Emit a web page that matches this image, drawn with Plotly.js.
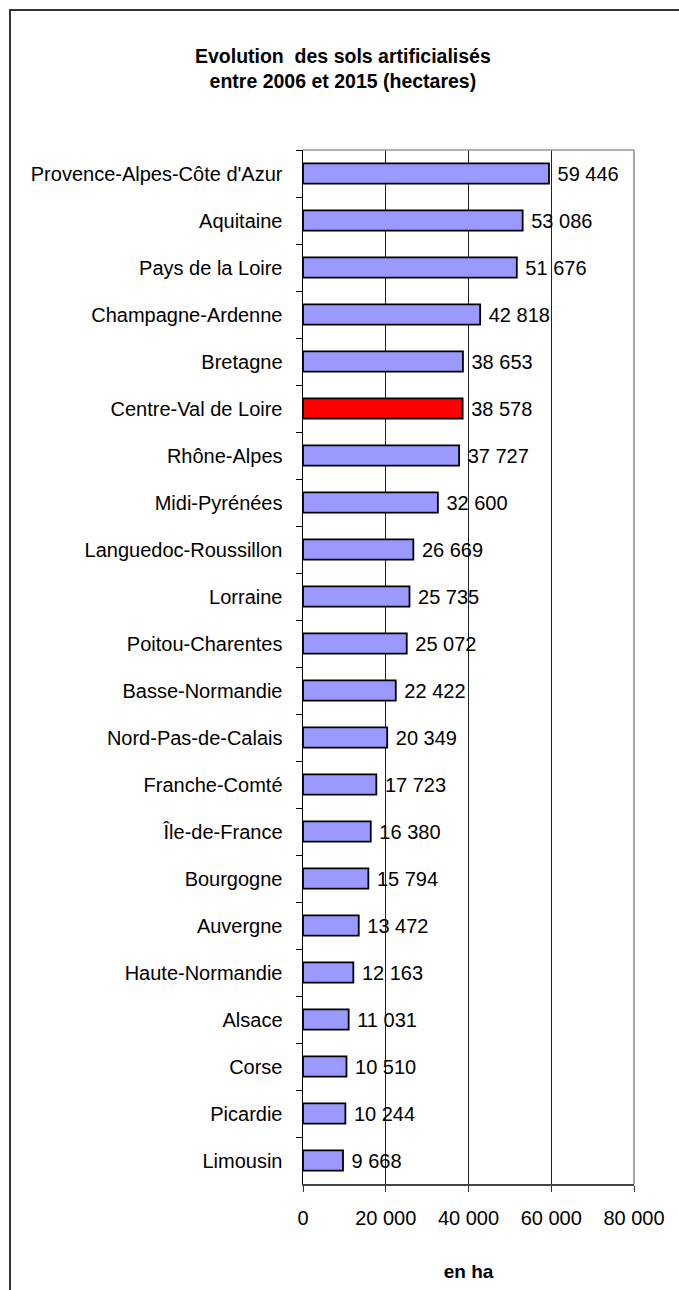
<!DOCTYPE html>
<html>
<head>
<meta charset="utf-8">
<script src="https://cdn.plot.ly/plotly-3.0.1.min.js"></script>
<style>
  html, body { margin: 0; padding: 0; background: #fff; }
  #wrap { position: relative; width: 679px; height: 1290px; overflow: hidden; }
  #chart { width: 679px; height: 1290px; }
  #frame { position: absolute; left: 9px; top: 9px; width: 700px; height: 1300px;
           border-left: 2px solid #333; border-top: 2px solid #333; pointer-events: none; }
</style>
</head>
<body>
<div id="wrap">
  <div id="chart"></div>
  <div id="frame"></div>
</div>
<script>
const regions = ["Provence-Alpes-Côte d'Azur", "Aquitaine", "Pays de la Loire", "Champagne-Ardenne",
  "Bretagne", "Centre-Val de Loire", "Rhône-Alpes", "Midi-Pyrénées", "Languedoc-Roussillon",
  "Lorraine", "Poitou-Charentes", "Basse-Normandie", "Nord-Pas-de-Calais", "Franche-Comté",
  "Île-de-France", "Bourgogne", "Auvergne", "Haute-Normandie", "Alsace", "Corse", "Picardie", "Limousin"];
const values = [59446, 53086, 51676, 42818, 38653, 38578, 37727, 32600, 26669, 25735, 25072,
  22422, 20349, 17723, 16380, 15794, 13472, 12163, 11031, 10510, 10244, 9668];
const highlighted = "Centre-Val de Loire";
const xTickValues = [0, 20000, 40000, 60000, 80000];

const barColors = regions.map(r => r === highlighted ? "#FF0000" : "#9999FF");
const FONT = "Liberation Sans, Arial, sans-serif";

const trace = {
  type: "bar",
  orientation: "h",
  y: regions,
  x: values,
  marker: { color: barColors, line: { color: "#000", width: 1.8 } },
  text: values,
  texttemplate: "\u00a0%{x:,}",
  textposition: "outside",
  constraintext: "none",
  cliponaxis: false,
  textfont: { family: FONT, size: 20, color: "#000" },
  hoverinfo: "none"
};

const layout = {
  width: 679,
  height: 1290,
  margin: { l: 303, r: 45, t: 150, b: 106 },
  paper_bgcolor: "#fff",
  plot_bgcolor: "#fff",
  separators: ", ",
  showlegend: false,
  bargap: 0.57,
  font: { family: FONT, color: "#000", size: 20 },
  title: {
    text: "Evolution\u00a0 des sols artificialisés<br>entre 2006 et 2015 (hectares)",
    font: { family: FONT, size: 19.5, color: "#000", weight: "bold" },
    xref: "container", x: 0.505, xanchor: "center",
    yref: "container", y: 1 - 63 / 1290, yanchor: "top"
  },
  xaxis: {
    range: [0, 80000],
    tickvals: xTickValues,
    tickformat: ",",
    ticks: "outside",
    ticklen: 6,
    tickcolor: "#333",
    ticklabelstandoff: 9,
    showgrid: true,
    gridcolor: "#222",
    gridwidth: 1,
    showline: true,
    linecolor: "#444",
    linewidth: 1.5,
    zeroline: false,
    tickfont: { family: FONT, size: 20, color: "#000" },
    title: { text: "<b>en ha</b>", font: { family: FONT, size: 19, color: "#000" }, standoff: 37 },
    fixedrange: true
  },
  yaxis: {
    type: "category",
    categoryorder: "array",
    categoryarray: regions,
    autorange: "reversed",
    ticks: "outside",
    tickson: "boundaries",
    ticklen: 6,
    tickcolor: "#000",
    ticklabelstandoff: 15,
    showline: true,
    linecolor: "#000",
    linewidth: 1.5,
    showgrid: false,
    zeroline: false,
    tickfont: { family: FONT, size: 20, color: "#000" },
    fixedrange: true
  },
  shapes: [
    { type: "line", xref: "paper", yref: "paper", x0: 0, x1: 1, y0: 1, y1: 1,
      line: { color: "#999", width: 1.5 }, layer: "above" },
    { type: "line", xref: "paper", yref: "paper", x0: 1, x1: 1, y0: 0, y1: 1,
      line: { color: "#888", width: 1.5 }, layer: "above" }
  ]
};

Plotly.newPlot("chart", [trace], layout, { displayModeBar: false, staticPlot: true });
</script>
</body>
</html>
